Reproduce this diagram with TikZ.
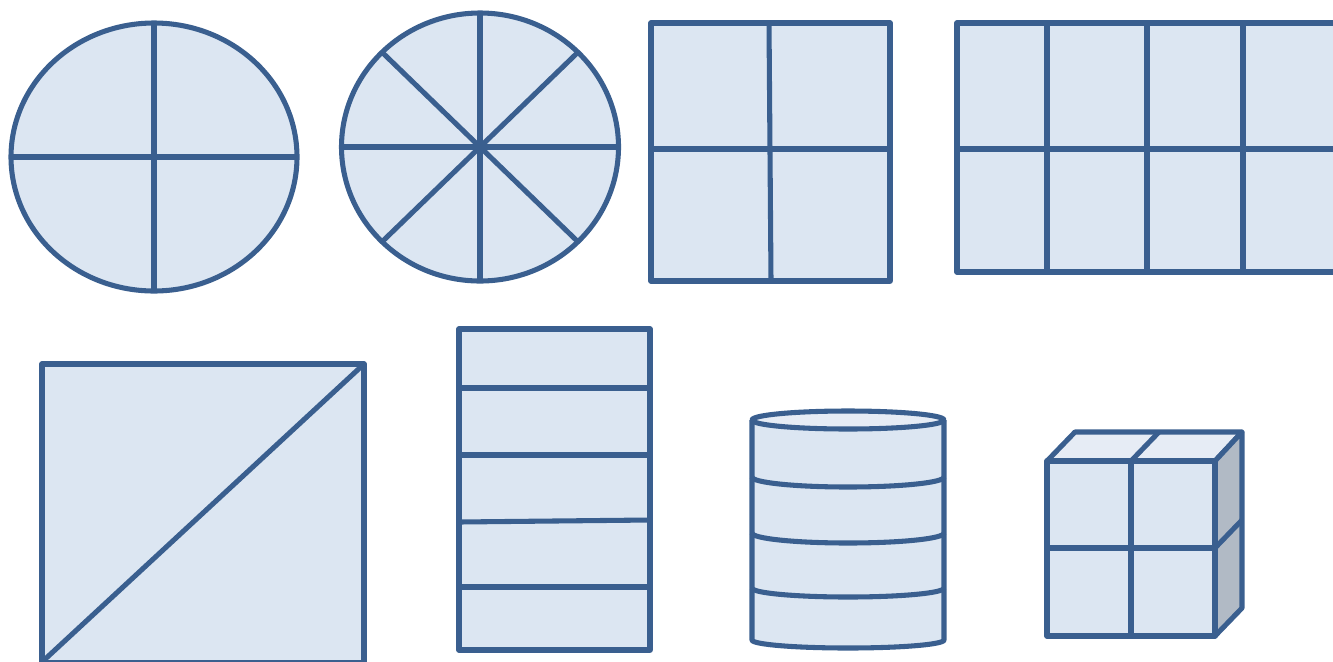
\documentclass[tikz,border=0pt]{standalone}
\usetikzlibrary{calc}
\definecolor{shapeblue}{HTML}{3A5F8F}
\definecolor{shapefill}{HTML}{DCE6F2}
\definecolor{shapetop}{HTML}{E6ECF5}
\definecolor{shapeside}{HTML}{B1BAC5}

\begin{document}
\begin{tikzpicture}[
    x=0.75pt, y=-0.75pt,
    outline/.style={
        draw=shapeblue, line width=3.8pt, line join=round
    },
    piece/.style={
        outline, fill=shapefill
    },
    toppiece/.style={
        outline, fill=shapetop
    },
    sidepiece/.style={
        outline, fill=shapeside
    },
    divider/.style={
        draw=shapeblue, line width=3.8pt
    },
]

\useasboundingbox (0,0) rectangle (1333,661);
\clip (0,0) rectangle (1333,661);

% ===================================================================
% TOP ROW
% ===================================================================

    % Ellipse cut in quarters
    \draw[piece] (154,157) ellipse [x radius=143, y radius=134];
    \draw[divider] (154,23) -- (154,291);
    \draw[divider] (11,157) -- (297,157);

    % Ellipse cut in eighths
    \draw[piece] (480,147) ellipse [x radius=138.5, y radius=134];
    \draw[divider] (480,13) -- (480,281);
    \draw[divider] (341.5,147) -- (618.5,147);
    \draw[divider] ($(480,147)+(135:138.5 and 134)$) -- ($(480,147)+(-45:138.5 and 134)$);
    \draw[divider] ($(480,147)+(45:138.5 and 134)$) -- ($(480,147)+(225:138.5 and 134)$);

    % Square cut in quarters
    \draw[piece] (651,23) rectangle (890,281);
    \draw[divider] (651,149) -- (890,149);
    \draw[divider] (769,23) -- (771,281);

    % Wide rectangle cut in eighths
    \draw[piece] (957,23) rectangle (1345,272);
    \draw[divider] (957,149) -- (1345,149);
    \draw[divider] (1047,23) -- (1047,272);
    \draw[divider] (1147,23) -- (1147,272);
    \draw[divider] (1243,23) -- (1243,272);

% ===================================================================
% BOTTOM ROW
% ===================================================================

    % Square cut in halves
    \draw[piece] (42,364) rectangle (364,663);
    \draw[divider] (42,662) -- (364,364);

    % Tall rectangle cut in fifths
    \draw[piece] (459,329) rectangle (650,650);
    \draw[divider] (459,388) -- (650,388);
    \draw[divider] (459,455) -- (650,455);
    \draw[divider] (459,522) -- (650,520);
    \draw[divider] (459,587) -- (650,587);

    % Cylinder cut in four slices
    \draw[piece] (752,420) -- (752,640)
        arc [start angle=180, end angle=0, x radius=96, y radius=8]
        -- (944,420);
    \draw[toppiece] (848,420) ellipse [x radius=96, y radius=9];
    \draw[divider] (752,477) arc [start angle=180, end angle=0, x radius=96, y radius=10];
    \draw[divider] (752,533) arc [start angle=180, end angle=0, x radius=96, y radius=10];
    \draw[divider] (752,588) arc [start angle=180, end angle=0, x radius=96, y radius=9];

    % Cube cut in quarters
    \draw[toppiece] (1047,461) -- (1075,432) -- (1242,432) -- (1215,461) -- cycle;
    \draw[sidepiece] (1215,461) -- (1242,432) -- (1242,608) -- (1215,636) -- cycle;
    \draw[piece] (1047,461) rectangle (1215,636);
    \draw[divider] (1131,461) -- (1131,636);
    \draw[divider] (1047,548) -- (1215,548);
    \draw[divider] (1131,461) -- (1159,432);
    \draw[divider] (1215,548) -- (1242,520);

\end{tikzpicture}
\end{document}
